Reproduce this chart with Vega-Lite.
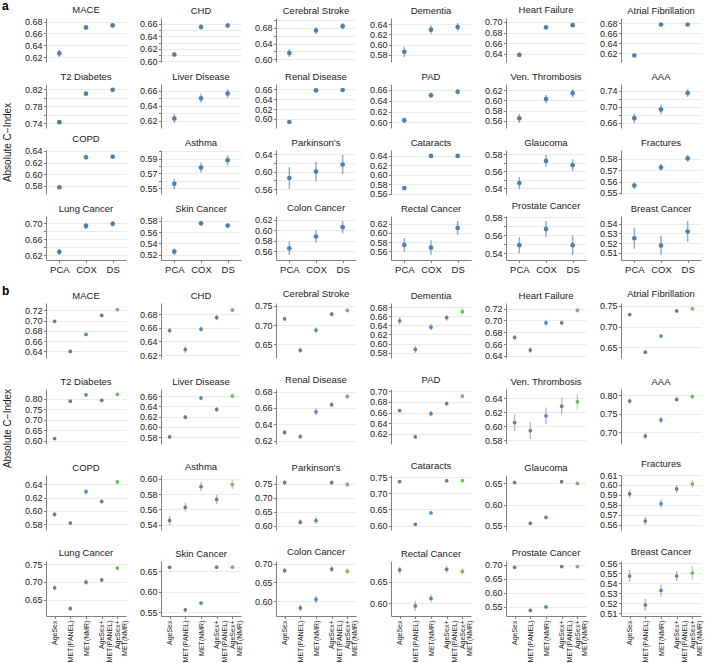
{
  "$schema": "https://vega.github.io/schema/vega-lite/v6.json",
  "padding": {"left": 2, "top": 0, "right": 2, "bottom": 2},
  "background": "white",
  "config": {
    "font": "Liberation Sans",
    "view": {"stroke": null},
    "axis": {"labelFont": "Liberation Sans", "labelFontSize": 9, "labelColor": "#222222", "domainColor": "#808080", "tickColor": "#808080", "tickSize": 2.5, "labelPadding": 1.5, "gridColor": "#e6e6e6", "gridWidth": 0.8},
    "header": {"labelFont": "Liberation Sans", "labelFontSize": 9.5, "labelColor": "#1a1a1a", "labelPadding": 3},
    "title": {"font": "Liberation Sans", "fontSize": 12, "fontWeight": "bold", "anchor": "start", "frame": "bounds", "offset": 2, "color": "#000000"}
  },
  "datasets": {
    "a": [
      {"d":"MACE","m":"PCA","c":0.626,"e":0.006},{"d":"MACE","m":"COX","c":0.670,"e":0.004},{"d":"MACE","m":"DS","c":0.6735,"e":0.004},
      {"d":"CHD","m":"PCA","c":0.611,"e":0.004},{"d":"CHD","m":"COX","c":0.6545,"e":0.004},{"d":"CHD","m":"DS","c":0.657,"e":0.004},
      {"d":"Cerebral Stroke","m":"PCA","c":0.616,"e":0.010},{"d":"Cerebral Stroke","m":"COX","c":0.673,"e":0.009},{"d":"Cerebral Stroke","m":"DS","c":0.684,"e":0.008},
      {"d":"Dementia","m":"PCA","c":0.586,"e":0.010},{"d":"Dementia","m":"COX","c":0.629,"e":0.008},{"d":"Dementia","m":"DS","c":0.634,"e":0.008},
      {"d":"Heart Failure","m":"PCA","c":0.638,"e":0.004},{"d":"Heart Failure","m":"COX","c":0.690,"e":0.004},{"d":"Heart Failure","m":"DS","c":0.694,"e":0.004},
      {"d":"Atrial Fibrillation","m":"PCA","c":0.6155,"e":0.003},{"d":"Atrial Fibrillation","m":"COX","c":0.678,"e":0.003},{"d":"Atrial Fibrillation","m":"DS","c":0.678,"e":0.003},
      {"d":"T2 Diabetes","m":"PCA","c":0.7425,"e":0.002},{"d":"T2 Diabetes","m":"COX","c":0.810,"e":0.002},{"d":"T2 Diabetes","m":"DS","c":0.819,"e":0.002},
      {"d":"Liver Disease","m":"PCA","c":0.623,"e":0.006},{"d":"Liver Disease","m":"COX","c":0.650,"e":0.006},{"d":"Liver Disease","m":"DS","c":0.6565,"e":0.006},
      {"d":"Renal Disease","m":"PCA","c":0.5935,"e":0.002},{"d":"Renal Disease","m":"COX","c":0.658,"e":0.002},{"d":"Renal Disease","m":"DS","c":0.659,"e":0.002},
      {"d":"PAD","m":"PCA","c":0.604,"e":0.005},{"d":"PAD","m":"COX","c":0.650,"e":0.005},{"d":"PAD","m":"DS","c":0.6565,"e":0.005},
      {"d":"Ven. Thrombosis","m":"PCA","c":0.565,"e":0.009},{"d":"Ven. Thrombosis","m":"COX","c":0.6025,"e":0.008},{"d":"Ven. Thrombosis","m":"DS","c":0.614,"e":0.008},
      {"d":"AAA","m":"PCA","c":0.671,"e":0.012},{"d":"AAA","m":"COX","c":0.693,"e":0.012},{"d":"AAA","m":"DS","c":0.734,"e":0.010},
      {"d":"COPD","m":"PCA","c":0.5775,"e":0.003},{"d":"COPD","m":"COX","c":0.629,"e":0.003},{"d":"COPD","m":"DS","c":0.630,"e":0.003},
      {"d":"Asthma","m":"PCA","c":0.556,"e":0.007},{"d":"Asthma","m":"COX","c":0.578,"e":0.007},{"d":"Asthma","m":"DS","c":0.588,"e":0.007},
      {"d":"Parkinson's","m":"PCA","c":0.585,"e":0.025},{"d":"Parkinson's","m":"COX","c":0.600,"e":0.022},{"d":"Parkinson's","m":"DS","c":0.616,"e":0.022},
      {"d":"Cataracts","m":"PCA","c":0.572,"e":0.002},{"d":"Cataracts","m":"COX","c":0.640,"e":0.002},{"d":"Cataracts","m":"DS","c":0.640,"e":0.002},
      {"d":"Glaucoma","m":"PCA","c":0.546,"e":0.007},{"d":"Glaucoma","m":"COX","c":0.572,"e":0.007},{"d":"Glaucoma","m":"DS","c":0.567,"e":0.007},
      {"d":"Fractures","m":"PCA","c":0.5565,"e":0.003},{"d":"Fractures","m":"COX","c":0.5725,"e":0.003},{"d":"Fractures","m":"DS","c":0.5805,"e":0.003},
      {"d":"Lung Cancer","m":"PCA","c":0.628,"e":0.008},{"d":"Lung Cancer","m":"COX","c":0.6935,"e":0.008},{"d":"Lung Cancer","m":"DS","c":0.699,"e":0.007},
      {"d":"Skin Cancer","m":"PCA","c":0.5257,"e":0.006},{"d":"Skin Cancer","m":"COX","c":0.5757,"e":0.004},{"d":"Skin Cancer","m":"DS","c":0.5717,"e":0.004},
      {"d":"Colon Cancer","m":"PCA","c":0.5653,"e":0.013},{"d":"Colon Cancer","m":"COX","c":0.588,"e":0.012},{"d":"Colon Cancer","m":"DS","c":0.606,"e":0.012},
      {"d":"Rectal Cancer","m":"PCA","c":0.574,"e":0.015},{"d":"Rectal Cancer","m":"COX","c":0.568,"e":0.016},{"d":"Rectal Cancer","m":"DS","c":0.611,"e":0.015},
      {"d":"Prostate Cancer","m":"PCA","c":0.549,"e":0.009},{"d":"Prostate Cancer","m":"COX","c":0.567,"e":0.009},{"d":"Prostate Cancer","m":"DS","c":0.549,"e":0.011},
      {"d":"Breast Cancer","m":"PCA","c":0.525,"e":0.011},{"d":"Breast Cancer","m":"COX","c":0.5175,"e":0.010},{"d":"Breast Cancer","m":"DS","c":0.532,"e":0.011}
    ],
    "b": [
      {"d":"MACE","m":"AgeSex","c":0.6985,"e":0.003},{"d":"MACE","m":"MET(PANEL)","c":0.640,"e":0.003},{"d":"MACE","m":"MET(NMR)","c":0.673,"e":0.003},{"d":"MACE","m":"AgeSex+MET(PANEL)","c":0.710,"e":0.003},{"d":"MACE","m":"AgeSex+MET(NMR)","c":0.7215,"e":0.003},
      {"d":"CHD","m":"AgeSex","c":0.656,"e":0.004},{"d":"CHD","m":"MET(PANEL)","c":0.628,"e":0.005},{"d":"CHD","m":"MET(NMR)","c":0.658,"e":0.004},{"d":"CHD","m":"AgeSex+MET(PANEL)","c":0.675,"e":0.004},{"d":"CHD","m":"AgeSex+MET(NMR)","c":0.686,"e":0.003},
      {"d":"Cerebral Stroke","m":"AgeSex","c":0.716,"e":0.006},{"d":"Cerebral Stroke","m":"MET(PANEL)","c":0.635,"e":0.007},{"d":"Cerebral Stroke","m":"MET(NMR)","c":0.687,"e":0.008},{"d":"Cerebral Stroke","m":"AgeSex+MET(PANEL)","c":0.728,"e":0.006},{"d":"Cerebral Stroke","m":"AgeSex+MET(NMR)","c":0.738,"e":0.006},
      {"d":"Dementia","m":"AgeSex","c":0.650,"e":0.008},{"d":"Dementia","m":"MET(PANEL)","c":0.5875,"e":0.008},{"d":"Dementia","m":"MET(NMR)","c":0.636,"e":0.008},{"d":"Dementia","m":"AgeSex+MET(PANEL)","c":0.657,"e":0.007},{"d":"Dementia","m":"AgeSex+MET(NMR)","c":0.670,"e":0.008},
      {"d":"Heart Failure","m":"AgeSex","c":0.6712,"e":0.004},{"d":"Heart Failure","m":"MET(PANEL)","c":0.650,"e":0.005},{"d":"Heart Failure","m":"MET(NMR)","c":0.696,"e":0.005},{"d":"Heart Failure","m":"AgeSex+MET(PANEL)","c":0.696,"e":0.004},{"d":"Heart Failure","m":"AgeSex+MET(NMR)","c":0.717,"e":0.004},
      {"d":"Atrial Fibrillation","m":"AgeSex","c":0.729,"e":0.002},{"d":"Atrial Fibrillation","m":"MET(PANEL)","c":0.638,"e":0.002},{"d":"Atrial Fibrillation","m":"MET(NMR)","c":0.677,"e":0.002},{"d":"Atrial Fibrillation","m":"AgeSex+MET(PANEL)","c":0.738,"e":0.002},{"d":"Atrial Fibrillation","m":"AgeSex+MET(NMR)","c":0.743,"e":0.002},
      {"d":"T2 Diabetes","m":"AgeSex","c":0.611,"e":0.002},{"d":"T2 Diabetes","m":"MET(PANEL)","c":0.788,"e":0.002},{"d":"T2 Diabetes","m":"MET(NMR)","c":0.818,"e":0.002},{"d":"T2 Diabetes","m":"AgeSex+MET(PANEL)","c":0.792,"e":0.002},{"d":"T2 Diabetes","m":"AgeSex+MET(NMR)","c":0.820,"e":0.002},
      {"d":"Liver Disease","m":"AgeSex","c":0.5807,"e":0.004},{"d":"Liver Disease","m":"MET(PANEL)","c":0.619,"e":0.004},{"d":"Liver Disease","m":"MET(NMR)","c":0.656,"e":0.004},{"d":"Liver Disease","m":"AgeSex+MET(PANEL)","c":0.634,"e":0.004},{"d":"Liver Disease","m":"AgeSex+MET(NMR)","c":0.660,"e":0.004},
      {"d":"Renal Disease","m":"AgeSex","c":0.630,"e":0.003},{"d":"Renal Disease","m":"MET(PANEL)","c":0.625,"e":0.003},{"d":"Renal Disease","m":"MET(NMR)","c":0.6553,"e":0.004},{"d":"Renal Disease","m":"AgeSex+MET(PANEL)","c":0.664,"e":0.003},{"d":"Renal Disease","m":"AgeSex+MET(NMR)","c":0.674,"e":0.003},
      {"d":"PAD","m":"AgeSex","c":0.664,"e":0.003},{"d":"PAD","m":"MET(PANEL)","c":0.6145,"e":0.004},{"d":"PAD","m":"MET(NMR)","c":0.658,"e":0.005},{"d":"PAD","m":"AgeSex+MET(PANEL)","c":0.677,"e":0.004},{"d":"PAD","m":"AgeSex+MET(NMR)","c":0.691,"e":0.004},
      {"d":"Ven. Thrombosis","m":"AgeSex","c":0.605,"e":0.012},{"d":"Ven. Thrombosis","m":"MET(PANEL)","c":0.5935,"e":0.012},{"d":"Ven. Thrombosis","m":"MET(NMR)","c":0.6145,"e":0.012},{"d":"Ven. Thrombosis","m":"AgeSex+MET(PANEL)","c":0.6285,"e":0.012},{"d":"Ven. Thrombosis","m":"AgeSex+MET(NMR)","c":0.635,"e":0.011},
      {"d":"AAA","m":"AgeSex","c":0.784,"e":0.007},{"d":"AAA","m":"MET(PANEL)","c":0.6893,"e":0.008},{"d":"AAA","m":"MET(NMR)","c":0.733,"e":0.009},{"d":"AAA","m":"AgeSex+MET(PANEL)","c":0.7883,"e":0.006},{"d":"AAA","m":"AgeSex+MET(NMR)","c":0.796,"e":0.007},
      {"d":"COPD","m":"AgeSex","c":0.5946,"e":0.003},{"d":"COPD","m":"MET(PANEL)","c":0.5816,"e":0.003},{"d":"COPD","m":"MET(NMR)","c":0.629,"e":0.004},{"d":"COPD","m":"AgeSex+MET(PANEL)","c":0.6143,"e":0.003},{"d":"COPD","m":"AgeSex+MET(NMR)","c":0.6438,"e":0.003},
      {"d":"Asthma","m":"AgeSex","c":0.5454,"e":0.006},{"d":"Asthma","m":"MET(PANEL)","c":0.5627,"e":0.006},{"d":"Asthma","m":"MET(NMR)","c":0.5897,"e":0.006},{"d":"Asthma","m":"AgeSex+MET(PANEL)","c":0.573,"e":0.006},{"d":"Asthma","m":"AgeSex+MET(NMR)","c":0.5925,"e":0.006},
      {"d":"Parkinson's","m":"AgeSex","c":0.754,"e":0.009},{"d":"Parkinson's","m":"MET(PANEL)","c":0.6123,"e":0.010},{"d":"Parkinson's","m":"MET(NMR)","c":0.6176,"e":0.012},{"d":"Parkinson's","m":"AgeSex+MET(PANEL)","c":0.754,"e":0.009},{"d":"Parkinson's","m":"AgeSex+MET(NMR)","c":0.747,"e":0.009},
      {"d":"Cataracts","m":"AgeSex","c":0.736,"e":0.002},{"d":"Cataracts","m":"MET(PANEL)","c":0.604,"e":0.002},{"d":"Cataracts","m":"MET(NMR)","c":0.6394,"e":0.002},{"d":"Cataracts","m":"AgeSex+MET(PANEL)","c":0.7389,"e":0.002},{"d":"Cataracts","m":"AgeSex+MET(NMR)","c":0.739,"e":0.002},
      {"d":"Glaucoma","m":"AgeSex","c":0.652,"e":0.004},{"d":"Glaucoma","m":"MET(PANEL)","c":0.5557,"e":0.004},{"d":"Glaucoma","m":"MET(NMR)","c":0.5697,"e":0.004},{"d":"Glaucoma","m":"AgeSex+MET(PANEL)","c":0.654,"e":0.004},{"d":"Glaucoma","m":"AgeSex+MET(NMR)","c":0.650,"e":0.004},
      {"d":"Fractures","m":"AgeSex","c":0.591,"e":0.004},{"d":"Fractures","m":"MET(PANEL)","c":0.5635,"e":0.004},{"d":"Fractures","m":"MET(NMR)","c":0.581,"e":0.004},{"d":"Fractures","m":"AgeSex+MET(PANEL)","c":0.596,"e":0.004},{"d":"Fractures","m":"AgeSex+MET(NMR)","c":0.601,"e":0.004},
      {"d":"Lung Cancer","m":"AgeSex","c":0.6833,"e":0.006},{"d":"Lung Cancer","m":"MET(PANEL)","c":0.6244,"e":0.007},{"d":"Lung Cancer","m":"MET(NMR)","c":0.699,"e":0.008},{"d":"Lung Cancer","m":"AgeSex+MET(PANEL)","c":0.7055,"e":0.006},{"d":"Lung Cancer","m":"AgeSex+MET(NMR)","c":0.739,"e":0.006},
      {"d":"Skin Cancer","m":"AgeSex","c":0.6598,"e":0.003},{"d":"Skin Cancer","m":"MET(PANEL)","c":0.5566,"e":0.003},{"d":"Skin Cancer","m":"MET(NMR)","c":0.573,"e":0.003},{"d":"Skin Cancer","m":"AgeSex+MET(PANEL)","c":0.660,"e":0.003},{"d":"Skin Cancer","m":"AgeSex+MET(NMR)","c":0.660,"e":0.003},
      {"d":"Colon Cancer","m":"AgeSex","c":0.6815,"e":0.007},{"d":"Colon Cancer","m":"MET(PANEL)","c":0.5819,"e":0.008},{"d":"Colon Cancer","m":"MET(NMR)","c":0.6046,"e":0.010},{"d":"Colon Cancer","m":"AgeSex+MET(PANEL)","c":0.6856,"e":0.008},{"d":"Colon Cancer","m":"AgeSex+MET(NMR)","c":0.6795,"e":0.008},
      {"d":"Rectal Cancer","m":"AgeSex","c":0.6786,"e":0.008},{"d":"Rectal Cancer","m":"MET(PANEL)","c":0.593,"e":0.012},{"d":"Rectal Cancer","m":"MET(NMR)","c":0.611,"e":0.010},{"d":"Rectal Cancer","m":"AgeSex+MET(PANEL)","c":0.680,"e":0.008},{"d":"Rectal Cancer","m":"AgeSex+MET(NMR)","c":0.675,"e":0.008},
      {"d":"Prostate Cancer","m":"AgeSex","c":0.691,"e":0.002},{"d":"Prostate Cancer","m":"MET(PANEL)","c":0.5363,"e":0.002},{"d":"Prostate Cancer","m":"MET(NMR)","c":0.5488,"e":0.002},{"d":"Prostate Cancer","m":"AgeSex+MET(PANEL)","c":0.6935,"e":0.002},{"d":"Prostate Cancer","m":"AgeSex+MET(NMR)","c":0.6935,"e":0.002},
      {"d":"Breast Cancer","m":"AgeSex","c":0.547,"e":0.006},{"d":"Breast Cancer","m":"MET(PANEL)","c":0.518,"e":0.006},{"d":"Breast Cancer","m":"MET(NMR)","c":0.5326,"e":0.006},{"d":"Breast Cancer","m":"AgeSex+MET(PANEL)","c":0.547,"e":0.005},{"d":"Breast Cancer","m":"AgeSex+MET(NMR)","c":0.550,"e":0.007}
    ]
  },
  "spacing": 11,
  "vconcat": [
    {
      "spacing": 1,
      "hconcat": [
        {
          "title": "a",
          "width": 1,
          "height": 248,
          "data": {"values": [{"v": 0}, {"v": 1}]},
          "mark": {"type": "point", "opacity": 0},
          "encoding": {"y": {"field": "v", "type": "quantitative", "axis": {"title": "Absolute C−Index", "labels": false, "ticks": false, "domain": false, "grid": false, "titleFontSize": 10, "titleFontWeight": "normal", "titleColor": "#222222", "titlePadding": 2}}}
        },
        {
          "data": {"name": "a"},
          "facet": {"field": "d", "type": "nominal", "title": null, "sort": ["MACE","CHD","Cerebral Stroke","Dementia","Heart Failure","Atrial Fibrillation","T2 Diabetes","Liver Disease","Renal Disease","PAD","Ven. Thrombosis","AAA","COPD","Asthma","Parkinson's","Cataracts","Glaucoma","Fractures","Lung Cancer","Skin Cancer","Colon Cancer","Rectal Cancer","Prostate Cancer","Breast Cancer"]},
          "columns": 6,
          "bounds": "flush",
          "spacing": {"row": 22, "column": 35},
          "resolve": {"scale": {"y": "independent"}},
          "spec": {
            "width": 80,
            "height": 44,
            "encoding": {
              "x": {"field": "m", "type": "nominal", "sort": ["PCA","COX","DS"], "scale": {"type": "point", "padding": 0.5}, "axis": {"title": null, "labelAngle": 0, "labelFontSize": 9.5, "grid": false}}
            },
            "layer": [
              {"mark": {"type": "errorbar", "color": "#6a97c0", "opacity": 0.75, "thickness": 1.5},
               "encoding": {"y": {"field": "c", "type": "quantitative", "scale": {"zero": false, "nice": false, "padding": 5}, "axis": {"title": null, "tickCount": 5, "minExtent": 27, "maxExtent": 27}}, "yError": {"field": "e"}}},
              {"mark": {"type": "point", "filled": true, "color": "#4f80ad", "size": 22, "opacity": 1},
               "encoding": {"y": {"field": "c", "type": "quantitative", "scale": {"zero": false, "nice": false, "padding": 5}, "axis": {"title": null, "tickCount": 5, "minExtent": 27, "maxExtent": 27}}}}
            ]
          }
        }
      ]
    },
    {
      "spacing": 1,
      "hconcat": [
        {
          "title": "b",
          "width": 1,
          "height": 250,
          "data": {"values": [{"v": 0}, {"v": 1}]},
          "mark": {"type": "point", "opacity": 0},
          "encoding": {"y": {"field": "v", "type": "quantitative", "axis": {"title": "Absolute C−Index", "labels": false, "ticks": false, "domain": false, "grid": false, "titleFontSize": 10, "titleFontWeight": "normal", "titleColor": "#222222", "titlePadding": 2}}}
        },
        {
          "data": {"name": "b"},
          "facet": {"field": "d", "type": "nominal", "title": null, "sort": ["MACE","CHD","Cerebral Stroke","Dementia","Heart Failure","Atrial Fibrillation","T2 Diabetes","Liver Disease","Renal Disease","PAD","Ven. Thrombosis","AAA","COPD","Asthma","Parkinson's","Cataracts","Glaucoma","Fractures","Lung Cancer","Skin Cancer","Colon Cancer","Rectal Cancer","Prostate Cancer","Breast Cancer"]},
          "columns": 6,
          "bounds": "flush",
          "spacing": {"row": 31, "column": 35},
          "resolve": {"scale": {"y": "independent"}},
          "spec": {
            "width": 80,
            "height": 55,
            "encoding": {
              "x": {"field": "m", "type": "nominal", "sort": ["AgeSex","MET(PANEL)","MET(NMR)","AgeSex+MET(PANEL)","AgeSex+MET(NMR)"], "scale": {"type": "point", "padding": 0.55}, "axis": {"title": null, "labelAngle": 270, "labelFontSize": 7, "labelLineHeight": 7.5, "grid": false, "labelExpr": "indexof(datum.label, '+') > 0 ? ['AgeSex+', substring(datum.label, 7)] : datum.label"}},
              "color": {"field": "m", "type": "nominal", "scale": {"domain": ["AgeSex","MET(PANEL)","MET(NMR)","AgeSex+MET(PANEL)","AgeSex+MET(NMR)"], "range": ["#7a7a7a","#7a7a7a","#4f88c4","#7a7a7a","#6cbf5c"]}, "legend": null}
            },
            "layer": [
              {"mark": {"type": "errorbar", "opacity": 0.5, "thickness": 1.4},
               "encoding": {"y": {"field": "c", "type": "quantitative", "scale": {"zero": false, "nice": false, "padding": 5}, "axis": {"title": null, "tickCount": 4, "minExtent": 27, "maxExtent": 27}}, "yError": {"field": "e"}}},
              {"mark": {"type": "point", "filled": true, "size": 14, "opacity": 1},
               "encoding": {"y": {"field": "c", "type": "quantitative", "scale": {"zero": false, "nice": false, "padding": 5}, "axis": {"title": null, "tickCount": 4, "minExtent": 27, "maxExtent": 27}}}}
            ]
          }
        }
      ]
    }
  ]
}
